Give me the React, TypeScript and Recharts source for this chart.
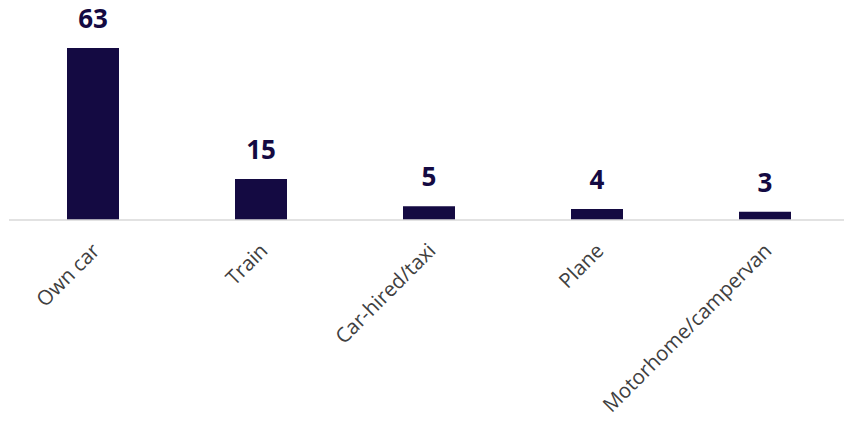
import React from 'react'
import { BarChart, Bar, XAxis, YAxis, LabelList } from 'recharts'

const modes = ['Own car', 'Train', 'Car-hired/taxi', 'Plane', 'Motorhome/campervan']
const shares = [63, 15, 5, 4, 3]

const data = modes.map((mode, i) => ({ mode, value: shares[i] }))

const BAR_COLOR = '#140a42'

// rotated category label, anchored at its end
const AngledTick = ({ x, y, payload }: any) => (
    <g transform={`translate(${x + 8},${y + 24})`}>
        <text
            transform="rotate(-45)"
            textAnchor="end"
            fontFamily="'Open Sans', sans-serif"
            fontSize={20.5}
            fill="#404040"
        >
            {payload.value}
        </text>
    </g>
)

const App = () => {
    return (
        <div style={{ position: 'absolute', left: 0, top: 0, width: 844, height: 422, overflow: 'hidden', background: '#fff' }}>
            <BarChart width={849} height={422} data={data} margin={{ top: 48, right: 0, bottom: 0, left: 9 }}>
                <XAxis
                    dataKey="mode"
                    height={202}
                    interval={0}
                    tickLine={false}
                    axisLine={{ stroke: '#d9d9d9', strokeWidth: 1.5 }}
                    tick={<AngledTick />}
                />
                <YAxis hide domain={[0, 63]} />
                <Bar dataKey="value" fill={BAR_COLOR} barSize={52} isAnimationActive={false}>
                    <LabelList
                        dataKey="value"
                        position="top"
                        offset={20}
                        fill={BAR_COLOR}
                        fontFamily="'Open Sans', sans-serif"
                        fontWeight={700}
                        fontSize={26}
                    />
                </Bar>
            </BarChart>
        </div>
    )
}

export default App
